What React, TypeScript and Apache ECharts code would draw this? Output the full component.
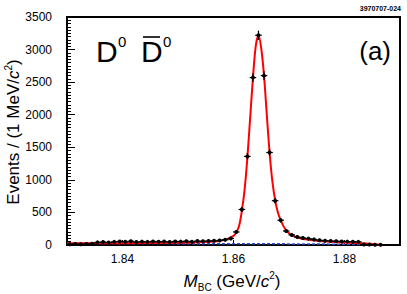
import React, { useEffect, useRef } from "react";
import * as echarts from "echarts";

// Bin centres (GeV/c^2), 1 MeV bins
const binCenters = [
  1.8305, 1.8315, 1.8325, 1.8335, 1.8345, 1.8355, 1.8365, 1.8375, 1.8385, 1.8395,
  1.8405, 1.8415, 1.8425, 1.8435, 1.8445, 1.8455, 1.8465, 1.8475, 1.8485, 1.8495,
  1.8505, 1.8515, 1.8525, 1.8535, 1.8545, 1.8555, 1.8565, 1.8575, 1.8585, 1.8595,
  1.8605, 1.8615, 1.8625, 1.8635, 1.8645, 1.8655, 1.8665, 1.8675, 1.8685, 1.8695,
  1.8705, 1.8715, 1.8725, 1.8735, 1.8745, 1.8755, 1.8765, 1.8775, 1.8785, 1.8795,
  1.8805, 1.8815, 1.8825, 1.8835, 1.8845, 1.8855, 1.8865,
];
// Events per bin
const binCounts = [
  12, 15, 10, 14, 20, 40, 45, 38, 48, 55,
  50, 58, 45, 52, 48, 55, 50, 53, 47, 55,
  52, 58, 50, 60, 56, 62, 65, 70, 80, 100,
  200, 545, 1360, 2570, 3220, 2600, 1420, 680, 380, 215,
  155, 122, 108, 98, 85, 72, 65, 60, 58, 55,
  52, 50, 48, 8, 6, 5, 5,
];

// Total fit curve (red)
const fitX = [
  1.83, 1.84, 1.85, 1.855, 1.857, 1.858, 1.859, 1.86, 1.8605, 1.861,
  1.8615, 1.862, 1.8625, 1.863, 1.8635, 1.864, 1.8645, 1.865, 1.8655, 1.866,
  1.8665, 1.867, 1.8675, 1.868, 1.8685, 1.869, 1.8695, 1.87, 1.8705, 1.871,
  1.872, 1.873, 1.875, 1.877, 1.88, 1.882, 1.884, 1.8855, 1.8865,
];
const fitY = [
  25, 28, 35, 45, 58, 72, 95, 140, 190, 290,
  520, 850, 1340, 1950, 2560, 3050, 3220, 3020, 2600, 2000,
  1420, 980, 690, 500, 380, 290, 225, 180, 150, 130,
  105, 88, 66, 52, 40, 32, 22, 12, 4,
];

// Background curve (blue dashed)
const bkgX = [1.83, 1.84, 1.85, 1.86, 1.865, 1.87, 1.875, 1.878, 1.881, 1.883, 1.885, 1.886, 1.8865];
const bkgY = [22, 22, 21, 20, 19, 17, 15, 13, 10, 8, 5, 3, 0];

const xTicks = [1.84, 1.86, 1.88];

const FONT = "'Liberation Sans', Arial, Helvetica, sans-serif";

export default function App() {
  const ref = useRef<HTMLDivElement>(null);
  useEffect(() => {
    if (!ref.current) return;
    const chart = echarts.init(ref.current, null, { renderer: "svg" });
    const points = binCenters.map((x, i) => [x, binCounts[i]]);
    const fit = fitX.map((x, i) => [x, fitY[i]]);
    const bkg = bkgX.map((x, i) => [x, bkgY[i]]);
    chart.setOption({
      animation: false,
      backgroundColor: "#ffffff",
      textStyle: { fontFamily: FONT },
      grid: {
        left: 67,
        right: 7,
        top: 17,
        bottom: 49,
        show: true,
        borderColor: "#000",
        borderWidth: 2,
        backgroundColor: "transparent",
      },
      xAxis: {
        type: "value",
        min: 1.83,
        max: 1.89,
        axisLine: { show: false },
        splitLine: { show: false },
        axisTick: { show: true, inside: true, length: 5, lineStyle: { color: "#000" }, customValues: xTicks },
        axisLabel: {
          customValues: xTicks,
          formatter: (v: number) => v.toFixed(2),
          color: "#000",
          fontSize: 12,
          margin: 8,
          fontFamily: FONT,
        },
      },
      yAxis: {
        type: "value",
        min: 0,
        max: 3500,
        interval: 500,
        axisLine: { show: false },
        splitLine: { show: false },
        axisTick: { show: true, inside: true, length: 8, lineStyle: { color: "#000" } },
        minorTick: { show: true, splitNumber: 10, length: 4, lineStyle: { color: "#000" } },
        axisLabel: {
          color: "#000",
          fontSize: 12,
          margin: 15,
          fontFamily: FONT,
          formatter: (v: number) => String(v),
        },
      },
      graphic: [
        {
          type: "text",
          x: 13,
          y: 132,
          rotation: Math.PI / 2,
          style: {
            text: "Events / (1 MeV/{i|c}{sup|2})",
            fill: "#000",
            font: `17px ${FONT}`,
            align: "center",
            verticalAlign: "middle",
            rich: {
              i: { fontSize: 17, fontStyle: "italic", fontFamily: FONT, lineHeight: 20 },
              sup: { fontSize: 10, fontFamily: FONT, verticalAlign: "top", lineHeight: 20 },
            },
          },
        },
        {
          type: "text",
          x: 232,
          y: 281,
          style: {
            text: "{i|M}{sub|BC} (GeV/{i|c}{sup|2})",
            fill: "#000",
            font: `17px ${FONT}`,
            align: "center",
            verticalAlign: "middle",
            rich: {
              i: { fontSize: 17, fontStyle: "italic", fontFamily: FONT, lineHeight: 22 },
              sub: { fontSize: 10, fontFamily: FONT, verticalAlign: "bottom", lineHeight: 22 },
              sup: { fontSize: 10, fontFamily: FONT, verticalAlign: "top", lineHeight: 22 },
            },
          },
        },
        {
          type: "text",
          x: 96,
          y: 51,
          style: { text: "D", fill: "#000", font: `30px ${FONT}`, align: "left", verticalAlign: "middle" },
        },
        {
          type: "text",
          x: 118,
          y: 41,
          style: { text: "0", fill: "#000", font: `15px ${FONT}`, align: "left", verticalAlign: "middle" },
        },
        {
          type: "text",
          x: 141,
          y: 51,
          style: { text: "D", fill: "#000", font: `30px ${FONT}`, align: "left", verticalAlign: "middle" },
        },
        {
          type: "line",
          shape: { x1: 143, y1: 37, x2: 160, y2: 37 },
          style: { stroke: "#000", lineWidth: 1.6 },
        },
        {
          type: "text",
          x: 163,
          y: 41,
          style: { text: "0", fill: "#000", font: `15px ${FONT}`, align: "left", verticalAlign: "middle" },
        },
        {
          type: "text",
          x: 391,
          y: 51,
          style: { text: "(a)", fill: "#000", font: `26px ${FONT}`, align: "right", verticalAlign: "middle" },
        },
        {
          type: "text",
          x: 401,
          y: 8,
          style: { text: "3970707-024", fill: "#000", font: `bold 7px ${FONT}`, align: "right", verticalAlign: "middle" },
        },
      ],
      series: [
        {
          type: "line",
          data: bkg,
          showSymbol: false,
          smooth: false,
          lineStyle: { color: "#2b4fe0", width: 1.5, type: [3, 2] },
          z: 2,
        },
        {
          type: "line",
          data: fit,
          showSymbol: false,
          smooth: 0.3,
          lineStyle: { color: "#ff0000", width: 2 },
          z: 3,
        },
        {
          type: "custom",
          data: points,
          z: 4,
          clip: false,
          renderItem: (params: any, api: any) => {
            const x = api.value(0);
            const y = api.value(1);
            const e = Math.sqrt(Math.max(y, 0));
            const p = api.coord([x, y]);
            const pl = api.coord([x - 0.0005, y]);
            const pr = api.coord([x + 0.0005, y]);
            const pt = api.coord([x, y + e]);
            const pb = api.coord([x, Math.max(y - e, 0)]);
            return {
              type: "group",
              children: [
                { type: "line", shape: { x1: pl[0] - 0.5, y1: p[1], x2: pr[0] + 0.5, y2: p[1] }, style: { stroke: "#000", lineWidth: 1.2 } },
                { type: "line", shape: { x1: p[0], y1: pt[1] - 1, x2: p[0], y2: pb[1] + 1 }, style: { stroke: "#000", lineWidth: 1.2 } },
                { type: "circle", shape: { cx: p[0], cy: p[1], r: 2 }, style: { fill: "#000" } },
              ],
            };
          },
        },
      ],
    });
    return () => chart.dispose();
  }, []);
  return (
    <div
      ref={ref}
      style={{ position: "fixed", left: 0, top: 0, width: 407, height: 294, background: "#fff" }}
    />
  );
}
